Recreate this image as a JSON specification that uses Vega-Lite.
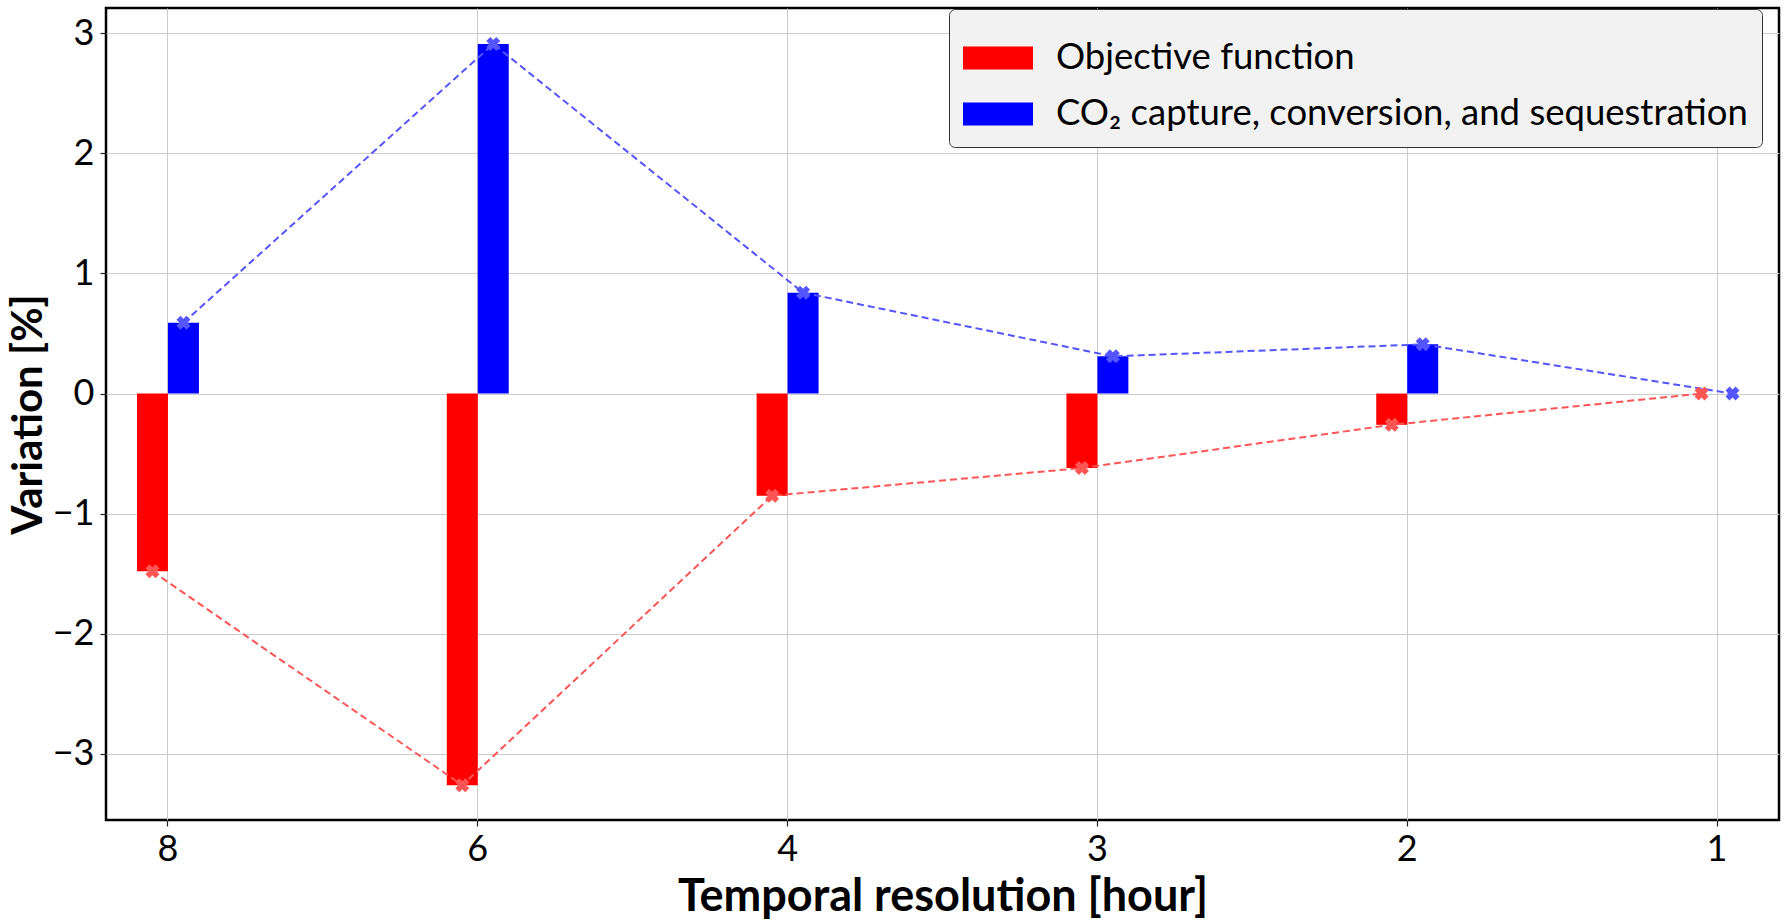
{
  "$schema": "https://vega.github.io/schema/vega-lite/v6.json",
  "autosize": {"type": "none"},
  "width": 1673,
  "height": 812,
  "padding": {"left": 106, "top": 8, "right": 7, "bottom": 103},
  "background": "white",
  "config": {
    "font": "Lato",
    "view": {"stroke": "black", "strokeWidth": 2.5},
    "axis": {
      "domain": false,
      "grid": true,
      "gridColor": "#cccccc",
      "gridWidth": 1,
      "tickColor": "#222222",
      "tickWidth": 1.2,
      "tickSize": 6,
      "labelFont": "Lato",
      "labelFontSize": 36,
      "labelColor": "black",
      "titleFont": "Lato",
      "titleFontSize": 45,
      "titleFontWeight": "bold",
      "titleColor": "black"
    },
    "legend": {
      "fillColor": "#f2f2f2",
      "strokeColor": "#333333",
      "cornerRadius": 6,
      "padding": 14,
      "labelFont": "Lato",
      "labelFontSize": 36.5,
      "labelColor": "black",
      "labelLimit": 1000
    }
  },
  "data": {
    "values": [
      {"hour": "8", "series": "Objective function", "value": -1.48},
      {"hour": "8", "series": "CO₂ capture, conversion, and sequestration", "value": 0.59},
      {"hour": "6", "series": "Objective function", "value": -3.26},
      {"hour": "6", "series": "CO₂ capture, conversion, and sequestration", "value": 2.91},
      {"hour": "4", "series": "Objective function", "value": -0.85},
      {"hour": "4", "series": "CO₂ capture, conversion, and sequestration", "value": 0.84},
      {"hour": "3", "series": "Objective function", "value": -0.62},
      {"hour": "3", "series": "CO₂ capture, conversion, and sequestration", "value": 0.31},
      {"hour": "2", "series": "Objective function", "value": -0.26},
      {"hour": "2", "series": "CO₂ capture, conversion, and sequestration", "value": 0.41},
      {"hour": "1", "series": "Objective function", "value": 0.0},
      {"hour": "1", "series": "CO₂ capture, conversion, and sequestration", "value": 0.0}
    ]
  },
  "layer": [
    {
      "mark": {"type": "bar", "orient": "vertical"},
      "encoding": {
        "x": {
          "field": "hour", "type": "ordinal",
          "scale": {"type": "band", "domain": ["8", "6", "4", "3", "2", "1"], "paddingInner": 0.8, "paddingOuter": 0.1},
          "axis": {"title": "Temporal resolution [hour]", "labelAngle": 0, "labelPadding": 6, "titlePadding": 7}
        },
        "xOffset": {
          "field": "series", "type": "nominal",
          "scale": {"domain": ["Objective function", "CO₂ capture, conversion, and sequestration"], "paddingInner": 0, "paddingOuter": 0}
        },
        "y": {
          "field": "value", "type": "quantitative",
          "scale": {"domain": [-3.55, 3.21], "nice": false, "zero": false},
          "axis": {"title": "Variation [%]", "values": [-3, -2, -1, 0, 1, 2, 3], "format": "d", "labelPadding": 6, "titlePadding": 2, "titleFontSize": 42}
        },
        "color": {
          "field": "series", "type": "nominal",
          "scale": {"domain": ["Objective function", "CO₂ capture, conversion, and sequestration"], "range": ["#ff0000", "#0000ff"]},
          "legend": {
            "title": null,
            "orient": "none",
            "legendX": 843,
            "legendY": 1,
            "symbolType": "M-1,-0.33L1,-0.33L1,0.33L-1,0.33Z",
            "symbolSize": 4900,
            "symbolStrokeWidth": 0,
            "labelOffset": 23,
            "rowPadding": 2
          }
        }
      }
    },
    {
      "transform": [{"filter": "datum.series === 'Objective function'"}],
      "mark": {"type": "line", "color": "#ff5555", "strokeWidth": 2, "strokeDash": [7, 4]},
      "encoding": {
        "x": {"field": "hour", "type": "ordinal", "bandPosition": 0.25},
        "y": {"field": "value", "type": "quantitative"}
      }
    },
    {
      "transform": [{"filter": "datum.series !== 'Objective function'"}],
      "mark": {"type": "line", "color": "#5555ff", "strokeWidth": 2, "strokeDash": [7, 4]},
      "encoding": {
        "x": {"field": "hour", "type": "ordinal", "bandPosition": 0.75},
        "y": {"field": "value", "type": "quantitative"}
      }
    },
    {
      "transform": [{"filter": "datum.series === 'Objective function'"}],
      "mark": {"type": "point", "shape": "cross", "angle": 45, "filled": true, "size": 200, "color": "#ff5555", "opacity": 1},
      "encoding": {
        "x": {"field": "hour", "type": "ordinal", "bandPosition": 0.25},
        "y": {"field": "value", "type": "quantitative"}
      }
    },
    {
      "transform": [{"filter": "datum.series !== 'Objective function'"}],
      "mark": {"type": "point", "shape": "cross", "angle": 45, "filled": true, "size": 200, "color": "#5555ff", "opacity": 1},
      "encoding": {
        "x": {"field": "hour", "type": "ordinal", "bandPosition": 0.75},
        "y": {"field": "value", "type": "quantitative"}
      }
    }
  ]
}
